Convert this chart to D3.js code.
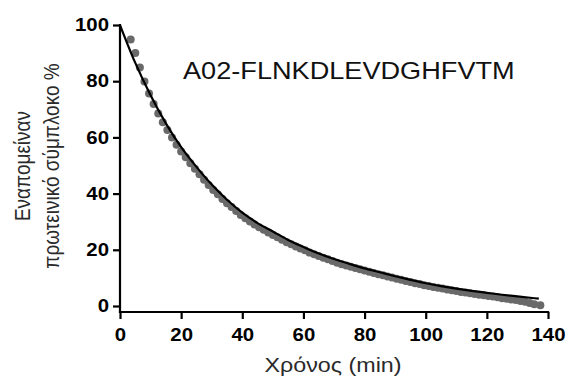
<!DOCTYPE html>
<html>
<head>
<meta charset="utf-8">
<script src="https://cdn.jsdelivr.net/npm/d3@7"></script>
<style>
  body { margin: 0; background: #fff; }
  .axis line { stroke: #000; stroke-width: 2.2; }
  .axis text { font-family: "Liberation Sans", Arial, sans-serif; font-weight: bold; font-size: 17.5px; fill: #000; }
</style>
</head>
<body>
<script>
// sampled points (min, % remaining)
var sampleTime = [3.5,5,6.5,8,9.5,11,12.5,14,15.5,17,18.5,20,21.5,23,24.5,26,27.5,29,30.5,32,
  33.5,35,36.5,38,39.5,41,42.5,44,45.5,47,48.5,50,51.5,53,54.5,56,57.5,59,60.5,62,
  63.5,65,66.5,68,69.5,71,72.5,74,75.5,77,78.5,80,81.5,83,84.5,86,87.5,89,90.5,92,
  93.5,95,96.5,98,99.5,101,102.5,104,105.5,107,108.5,110,111.5,113,114.5,116,117.5,119,120.5,122,
  123.5,125,126.5,128,129.5,131,132.5,134,135.5,137.5];
var remaining = [94.8,90.0,84.9,79.9,75.6,71.9,68.5,65.4,62.6,60.0,57.4,55.0,52.9,50.8,48.8,46.9,44.9,43.1,41.3,39.8,
  38.1,36.6,35.2,33.8,32.4,31.2,30.1,29.0,28.0,27.1,26.2,25.3,24.5,23.6,22.7,22.0,21.2,20.5,19.8,19.0,
  18.4,17.8,17.2,16.6,16.0,15.4,14.9,14.4,14.0,13.5,13.1,12.6,12.2,11.7,11.3,10.9,10.5,10.1,9.7,9.3,
  8.9,8.5,8.1,7.8,7.4,7.1,6.8,6.5,6.2,5.9,5.6,5.3,5.0,4.8,4.5,4.3,4.0,3.8,3.6,3.35,
  3.1,2.8,2.6,2.3,2.1,1.8,1.5,1.1,0.65,0.3];

// fitted curve
var fitTime  = [0,5,10,15,20,25,30,35,40,45,50,55,60,65,70,75,80,85,90,95,100,105,110,115,120,125,130,137];
var fitValue = [100,86.5,75,65,56.5,49.5,43.2,37.8,33.2,29.5,26.5,23.5,21,18.7,16.7,15,13.4,12,10.6,9.3,8.1,7.1,6.2,5.4,4.7,4,3.4,2.6];

var xTicks = [0,20,40,60,80,100,120,140];
var yTicks = [0,20,40,60,80,100];

var title  = "A02-FLNKDLEVDGHFVTM";
var xLabel = "Χρόνος (min)";
var yLabel = ["Εναπομείναν", "πρωτεινικό σύμπλοκο %"];

var width = 568, height = 379;
var sx = 1.165;   // the picture is a bit wider than tall
var xAxisY = 312;

var xScale = d3.scaleLinear().domain([0, 140]).range([120, 548]);
var yScale = d3.scaleLinear().domain([0, 100]).range([306, 25]);

var svg = d3.select("body").append("svg")
    .attr("width", width)
    .attr("height", height);

var pts = sampleTime.map(function(t, i) { return {t: t, v: remaining[i]}; });
var fit = fitTime.map(function(t, i) { return {t: t, v: fitValue[i]}; });

// points
svg.append("g")
  .selectAll("circle")
  .data(pts).enter()
  .append("circle")
    .attr("cx", function(d) { return xScale(d.t); })
    .attr("cy", function(d) { return yScale(d.v); })
    .attr("r", 4)
    .attr("fill", "#696969");

// fit line
var line = d3.line()
    .x(function(d) { return xScale(d.t); })
    .y(function(d) { return yScale(d.v); })
    .curve(d3.curveMonotoneX);

svg.append("path")
    .datum(fit)
    .attr("d", line)
    .attr("fill", "none")
    .attr("stroke", "#000")
    .attr("stroke-width", 2.2);

// x axis
var gx = svg.append("g")
    .attr("class", "axis")
    .attr("transform", "translate(0," + xAxisY + ")")
    .call(d3.axisBottom(xScale).tickValues(xTicks).tickSize(7).tickSizeOuter(0).tickPadding(10));
gx.select(".domain").remove();
gx.selectAll("text").attr("transform", "scale(" + sx + ",1)");

// y axis
var gy = svg.append("g")
    .attr("class", "axis")
    .attr("transform", "translate(120,0)")
    .call(d3.axisLeft(yScale).tickValues(yTicks).tickSize(7).tickSizeOuter(0));
gy.select(".domain").remove();
gy.selectAll("text")
    .attr("x", null)
    .attr("transform", "translate(-11,0) scale(" + sx + ",1)");

// axis lines, joined at the corner
svg.append("line")
    .attr("x1", xScale(0)).attr("x2", xScale(140))
    .attr("y1", xAxisY).attr("y2", xAxisY)
    .attr("stroke", "#000").attr("stroke-width", 2.2).attr("stroke-linecap", "square");
svg.append("line")
    .attr("x1", xScale(0)).attr("x2", xScale(0))
    .attr("y1", yScale(100)).attr("y2", xAxisY)
    .attr("stroke", "#000").attr("stroke-width", 2.2).attr("stroke-linecap", "square");

// labels
svg.append("text")
    .attr("transform", "translate(183,78.5) scale(" + sx + ",1)")
    .style("font-family", "Liberation Sans, Arial, sans-serif")
    .style("font-size", "23.3px")
    .attr("fill", "#111")
    .text(title);

svg.append("text")
    .attr("transform", "translate(333,371.5) scale(" + sx + ",1)")
    .attr("text-anchor", "middle")
    .style("font-family", "Liberation Sans, Arial, sans-serif")
    .style("font-size", "20px")
    .attr("fill", "#2a2a2a")
    .text(xLabel);

svg.selectAll(".ylab")
    .data(yLabel).enter()
    .append("text")
    .attr("class", "ylab")
    .attr("transform", function(d, i) { return "translate(" + (30 + i * 29) + ",166) scale(" + sx + ",1) rotate(-90)"; })
    .attr("text-anchor", "middle")
    .style("font-family", "Liberation Sans, Arial, sans-serif")
    .style("font-size", "19px")
    .attr("fill", "#2a2a2a")
    .text(function(d) { return d; });
</script>
</body>
</html>
